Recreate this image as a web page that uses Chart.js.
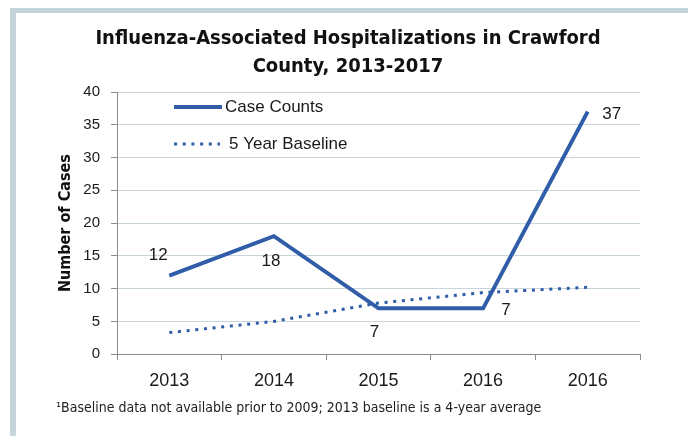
<!DOCTYPE html>
<html>
<head>
<meta charset="utf-8">
<script src="https://cdn.jsdelivr.net/npm/chart.js@4/dist/chart.umd.min.js"></script>
<style>
  html, body { margin: 0; padding: 0; background: #ffffff; }
  #wrap { position: relative; width: 688px; height: 436px; overflow: hidden; }
  #frameTop { position: absolute; left: 10px; top: 8px; width: 678px; height: 5px; background: #c6d4dc; }
  #frameLeft { position: absolute; left: 10px; top: 8px; width: 6px; height: 428px; background: #c6d4dc; }
  canvas { position: absolute; left: 0; top: 0; }
</style>
</head>
<body>
<div id="wrap">
  <div id="frameTop"></div>
  <div id="frameLeft"></div>
  <canvas id="c" width="688" height="436"></canvas>
</div>
<script>
const categories = ['2013', '2014', '2015', '2016', '2016'];
const caseCounts = [12, 18, 7, 7, 37];
const baseline = [3.3, 5.0, 7.8, 9.4, 10.2];
const yTicks = [0, 5, 10, 15, 20, 25, 30, 35, 40];
const titleLines = ['Influenza-Associated Hospitalizations in Crawford', 'County, 2013-2017'];
const yTitle = 'Number of Cases';
const footnote = '\u00B9Baseline data not available prior to 2009; 2013 baseline is a 4-year average';
const seriesNames = ['Case Counts', '5 Year Baseline'];

const BLUE = '#2f5da8';
const NARROW = "'Liberation Sans Narrow', 'DejaVu Sans Condensed', 'Liberation Sans', sans-serif";
const SANS = "'Liberation Sans', Arial, sans-serif";
const DOT = [3, 5.7];

// label offsets (px) from each point for the Case Counts labels
const labelOffsets = [[-11, -20], [-3, 25], [-4, 24], [23, 2], [24, 3]];

const extras = {
  id: 'extras',
  afterDatasetsDraw(chart) {
    const ctx = chart.ctx;
    const area = chart.chartArea;
    ctx.save();
    const meta = chart.getDatasetMeta(0);
    ctx.font = '17px ' + SANS;
    ctx.fillStyle = '#1a1a1a';
    ctx.textAlign = 'center';
    ctx.textBaseline = 'middle';
    meta.data.forEach((pt, i) => {
      const o = labelOffsets[i];
      ctx.fillText(String(caseCounts[i]), pt.x + o[0], pt.y + o[1]);
    });
    const lx = area.left + 57;
    const ly1 = area.top + 15;
    const ly2 = area.top + 52;
    ctx.strokeStyle = BLUE;
    ctx.lineWidth = 4;
    ctx.setLineDash([]);
    ctx.beginPath();
    ctx.moveTo(lx, ly1);
    ctx.lineTo(lx + 48, ly1);
    ctx.stroke();
    ctx.lineWidth = 3;
    ctx.setLineDash(DOT);
    ctx.beginPath();
    ctx.moveTo(lx, ly2);
    ctx.lineTo(lx + 46, ly2);
    ctx.stroke();
    ctx.setLineDash([]);
    ctx.textAlign = 'left';
    ctx.fillText(seriesNames[0], lx + 51, ly1);
    ctx.fillText(seriesNames[1], lx + 55, ly2);
    ctx.restore();
  }
};

new Chart(document.getElementById('c'), {
  type: 'line',
  data: {
    labels: categories,
    datasets: [
      {
        label: seriesNames[0],
        data: caseCounts,
        borderColor: BLUE,
        backgroundColor: BLUE,
        borderWidth: 4,
        pointRadius: 0,
        tension: 0,
        fill: false
      },
      {
        label: seriesNames[1],
        data: baseline,
        borderColor: BLUE,
        backgroundColor: BLUE,
        borderWidth: 3,
        borderDash: DOT,
        pointRadius: 0,
        tension: 0,
        fill: false
      }
    ]
  },
  options: {
    responsive: false,
    animation: false,
    devicePixelRatio: 1,
    layout: { padding: { left: 56, right: 48, top: 0, bottom: 0 } },
    plugins: {
      legend: { display: false },
      tooltip: { enabled: false },
      title: {
        display: true,
        text: titleLines,
        color: '#111111',
        font: { family: NARROW, size: 20, weight: 'bold', lineHeight: 1.4 },
        padding: { top: 25, bottom: 11 }
      },
      subtitle: {
        display: true,
        position: 'bottom',
        align: 'start',
        text: footnote,
        color: '#222222',
        font: { family: NARROW, size: 14, lineHeight: 1.2 },
        padding: { top: 10, bottom: 19 }
      }
    },
    scales: {
      x: {
        offset: true,
        afterFit(scale) { scale.height = 36; },
        grid: {
          offset: true,
          drawOnChartArea: false,
          drawTicks: true,
          tickLength: 6,
          color: '#8c8c8c'
        },
        border: { display: true, color: '#8c8c8c', width: 1 },
        ticks: {
          color: '#1a1a1a',
          font: { family: SANS, size: 18 },
          padding: 10,
          maxRotation: 0,
          autoSkip: false
        }
      },
      y: {
        min: 0,
        max: 40,
        afterFit(scale) { scale.width = 61; },
        afterBuildTicks(scale) { scale.ticks = yTicks.map(v => ({ value: v })); },
        grid: {
          color: '#c9d5dd',
          lineWidth: 1,
          tickLength: 6,
          tickColor: '#8c8c8c'
        },
        border: { display: true, color: '#8c8c8c', width: 1 },
        ticks: {
          color: '#1a1a1a',
          font: { family: SANS, size: 15 },
          padding: 11
        },
        title: {
          display: true,
          text: yTitle,
          color: '#111111',
          font: { family: NARROW, size: 16, weight: 'bold', lineHeight: 1.2 },
          padding: 0
        }
      }
    }
  },
  plugins: [extras]
});
</script>
</body>
</html>
